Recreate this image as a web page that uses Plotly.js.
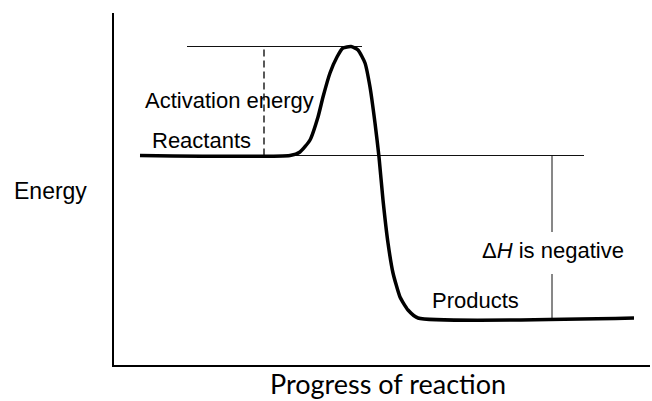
<!DOCTYPE html>
<html>
<head>
<meta charset="utf-8">
<script src="https://cdn.plot.ly/plotly-3.0.1.min.js"></script>
<style>html,body{margin:0;padding:0;background:#fff;}#chart{width:652px;height:401px;}</style>
</head>
<body>
<div id="chart"></div>
<script>
// Reaction progress (x) and energy (y) along the reaction path
const progress = [26, 176, 186, 196, 204, 209, 216, 223, 229, 237, 244, 251, 256, 261, 265, 269, 274, 279, 286, 294, 304, 520];
const energy   = [209.5, 209.5, 213, 225, 248, 268, 292, 308, 317, 318.5, 315, 302, 278, 242, 208, 165, 122, 92, 68, 55, 47, 47];

// Energy levels
const reactantEnergy = 209.5;
const peakEnergy = 318.5;
const productEnergy = 47;

// Reference guide extents (progress units)
const peakGuideX = [73, 248];
const reactantGuideX = [176, 470];
const activationMarkerX = 150;
const deltaHMarkerX = 438;
const deltaHGap = [133, 91];

// Labels
const labels = {
  activation: "Activation energy",
  reactants: "Reactants",
  products: "Products",
  deltaH: "\u0394<i>H</i> is negative",
  yTitle: "Energy",
  xTitle: "Progress of reaction"
};

const thin = {color: '#111', width: 1};
const traces = [
  {x: peakGuideX, y: [peakEnergy, peakEnergy], mode: 'lines', line: thin},
  {x: reactantGuideX, y: [reactantEnergy, reactantEnergy], mode: 'lines', line: thin},
  {x: [activationMarkerX, activationMarkerX], y: [reactantEnergy, peakEnergy], mode: 'lines', line: {color: '#000', width: 1.3, dash: '7px,4px'}},
  {x: [deltaHMarkerX, deltaHMarkerX], y: [reactantEnergy, deltaHGap[0]], mode: 'lines', line: thin},
  {x: [deltaHMarkerX, deltaHMarkerX], y: [deltaHGap[1], productEnergy], mode: 'lines', line: thin},
  {x: progress, y: energy, mode: 'lines', line: {color: '#000', width: 3.5, shape: 'spline', smoothing: 0.5}}
];

const f = {family: 'Liberation Sans, Arial, sans-serif', size: 22, color: '#000'};
const layout = {
  width: 652, height: 401,
  margin: {l: 114, r: 2, t: 13, b: 36},
  paper_bgcolor: '#fff', plot_bgcolor: '#fff',
  showlegend: false,
  xaxis: {range: [0, 536], showline: true, linewidth: 2, linecolor: '#000', showgrid: false, zeroline: false, showticklabels: false, ticks: ''},
  yaxis: {range: [0, 352], showline: true, linewidth: 2, linecolor: '#000', showgrid: false, zeroline: false, showticklabels: false, ticks: ''},
  annotations: [
    {x: 115, y: 265, text: labels.activation, showarrow: false, font: f, xanchor: 'center', yanchor: 'middle'},
    {x: 87, y: 225, text: labels.reactants, showarrow: false, font: f, xanchor: 'center', yanchor: 'middle'},
    {x: 361, y: 65, text: labels.products, showarrow: false, font: f, xanchor: 'center', yanchor: 'middle'},
    {x: 439, y: 115, text: labels.deltaH, showarrow: false, font: f, xanchor: 'center', yanchor: 'middle'},
    {xref: 'paper', yref: 'paper', x: -0.119, y: 0.493, text: labels.yTitle, showarrow: false, font: {family: 'Liberation Sans, Arial, sans-serif', size: 23, color: '#000'}, xanchor: 'center', yanchor: 'middle'},
    {xref: 'paper', yref: 'paper', x: 0.511, y: -0.053, text: labels.xTitle, showarrow: false, font: {family: 'Lato, sans-serif', size: 27, color: '#000'}, xanchor: 'center', yanchor: 'middle'}
  ]
};
Plotly.newPlot('chart', traces, layout, {displayModeBar: false, staticPlot: true});
</script>
</body>
</html>
